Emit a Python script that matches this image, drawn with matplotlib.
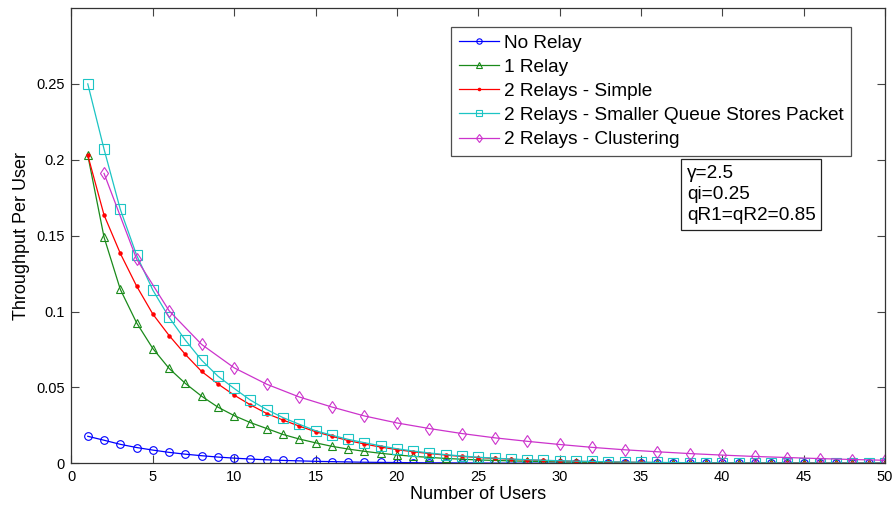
import matplotlib
matplotlib.use("Agg")
import matplotlib.pyplot as plt

plt.rcParams['font.family'] = ['Liberation Sans', 'DejaVu Sans']

users = list(range(1, 51))
users_even = list(range(2, 51, 2))

no_relay = [0.0178, 0.0152, 0.0125, 0.0104, 0.0087, 0.0072, 0.0060, 0.0050, 0.0041, 0.0034,
            0.0028, 0.0023, 0.0019, 0.0016, 0.0013, 0.0011, 0.0009, 0.0007, 0.0006, 0.0005,
            0.0004, 0.0003, 0.0003, 0.0002, 0.0002, 0.0001, 0.0001, 0.0001, 0.0001, 0.0001,
            0.0, 0.0, 0.0, 0.0, 0.0, 0.0, 0.0, 0.0, 0.0, 0.0,
            0.0, 0.0, 0.0, 0.0, 0.0, 0.0, 0.0, 0.0, 0.0, 0.0]

one_relay = [0.203, 0.149, 0.1146, 0.0926, 0.0756, 0.0625, 0.0526, 0.0442, 0.0370, 0.0314,
             0.0268, 0.0229, 0.0190, 0.0160, 0.0135, 0.0112, 0.0094, 0.0079, 0.0066, 0.0055,
             0.0046, 0.0039, 0.0032, 0.0027, 0.0022, 0.0019, 0.0016, 0.0013, 0.0011, 0.0009,
             0.0008, 0.0006, 0.0005, 0.0004, 0.0004, 0.0003, 0.0003, 0.0002, 0.0002, 0.0002,
             0.0001, 0.0001, 0.0001, 0.0001, 0.0001, 0.0001, 0.0, 0.0, 0.0, 0.0]

two_simple = [0.203, 0.1636, 0.1383, 0.1168, 0.0983, 0.0842, 0.0717, 0.0605, 0.0523, 0.0449,
              0.0385, 0.0328, 0.0285, 0.0245, 0.0208, 0.0178, 0.0150, 0.0127, 0.0107, 0.0090,
              0.0076, 0.0064, 0.0054, 0.0045, 0.0038, 0.0032, 0.0027, 0.0022, 0.0019, 0.0016,
              0.0013, 0.0011, 0.0009, 0.0008, 0.0006, 0.0005, 0.0004, 0.0004, 0.0003, 0.0003,
              0.0002, 0.0002, 0.0002, 0.0001, 0.0001, 0.0001, 0.0001, 0.0001, 0.0001, 0.0001]

two_smaller_queue = [0.250, 0.207, 0.1673, 0.1372, 0.1141, 0.0961, 0.0811, 0.0679, 0.0574, 0.0493,
                     0.0416, 0.0354, 0.0301, 0.0257, 0.0215, 0.0185, 0.0158, 0.0136, 0.0115, 0.0096,
                     0.0081, 0.0068, 0.0057, 0.0048, 0.0040, 0.0034, 0.0028, 0.0024, 0.0020, 0.0017,
                     0.0014, 0.0012, 0.0010, 0.0008, 0.0007, 0.0006, 0.0005, 0.0004, 0.0003, 0.0003,
                     0.0002, 0.0002, 0.0002, 0.0001, 0.0001, 0.0001, 0.0001, 0.0001, 0.0001, 0.0001]

two_clustering = [0.191, 0.1346, 0.1005, 0.0783, 0.0629, 0.0521, 0.0437, 0.0371, 0.0312, 0.0266,
                  0.0229, 0.0196, 0.0168, 0.0145, 0.0124, 0.0105, 0.0089, 0.0076, 0.0064, 0.0054,
                  0.0045, 0.0038, 0.0031, 0.0025, 0.0020]

labels = ['No Relay', '1 Relay', '2 Relays - Simple',
          '2 Relays - Smaller Queue Stores Packet', '2 Relays - Clustering']
params_text = 'γ=2.5\nqi=0.25\nqR1=qR2=0.85'

fig = plt.figure(figsize=(8.95, 5.08), dpi=100)
ax = fig.add_axes([71.5 / 895, 1 - 463.3 / 508, (885 - 71.5) / 895, (463.3 - 8) / 508])

lw = 0.9
ax.plot(users, no_relay, color='#0000ff', marker='o', markersize=5.5, mfc='none', mew=0.8, lw=lw, label=labels[0])
ax.plot(users, one_relay, color='#1a8a1a', marker='^', markersize=6, mfc='none', mew=0.8, lw=lw, label=labels[1])
ax.plot(users, two_simple, color='#ff0000', marker='.', markersize=4.5, lw=lw, label=labels[2])
ax.plot(users, two_smaller_queue, color='#1cc4c4', marker='s', markersize=6.5, mfc='none', mew=0.8, lw=lw, label=labels[3])
ax.plot(users_even, two_clustering, color='#cc33cc', marker='d', markersize=6.5, mfc='none', mew=0.8, lw=lw, label=labels[4])

ax.set_xlim(0, 50)
ax.set_ylim(0, 0.3)
ax.set_xticks(range(0, 51, 5))
ax.set_yticks([0, 0.05, 0.1, 0.15, 0.2, 0.25])
ax.set_yticklabels(['0', '0.05', '0.1', '0.15', '0.2', '0.25'])
ax.tick_params(direction='in', top=True, right=True, length=6, width=0.8,
               color='#444444', labelsize=10.5, pad=5)
for sp in ax.spines.values():
    sp.set_linewidth(0.9)
    sp.set_color('#333333')

ax.set_xlabel('Number of Users', fontsize=13, labelpad=1)
ax.set_ylabel('Throughput Per User', fontsize=13, labelpad=4)

# legend anchored by its top-right corner, in axes fractions
leg = ax.legend(loc='upper right', bbox_to_anchor=((851 - 71.5) / (885 - 71.5), (463.3 - 26.7) / (463.3 - 8)),
                fontsize=13.7, frameon=True, fancybox=False, handlelength=2.1, markerscale=0.7,
                handletextpad=0.27, borderpad=0.4, labelspacing=0.36, borderaxespad=0)
leg.get_frame().set_edgecolor('#222222')
leg.get_frame().set_linewidth(0.9)

ax.text((687 - 71.5) / (885 - 71.5), (463.3 - 165) / (463.3 - 8), params_text,
        transform=ax.transAxes, fontsize=13.7, va='top', ha='left', linespacing=1.3,
        bbox=dict(boxstyle='square,pad=0.3', fc='white', ec='#222222', lw=0.9))

fig.savefig('out.png', dpi=100)
